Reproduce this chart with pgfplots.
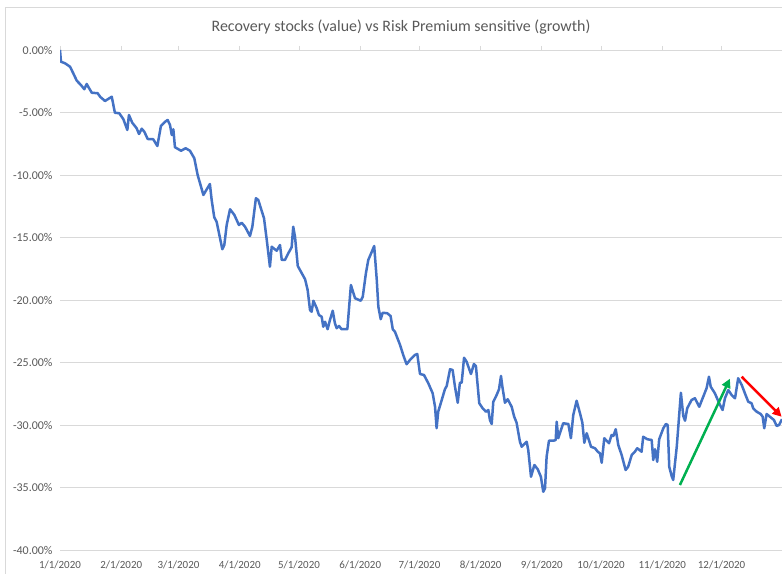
\documentclass[border=0pt]{standalone}
\usepackage{fontspec}
\setmainfont{Carlito}
\usepackage{pgfplots}
\pgfplotsset{compat=1.18}
\usetikzlibrary{arrows.meta}
\definecolor{xlblue}{RGB}{68,114,196}
\definecolor{xlgreen}{RGB}{0,176,80}
\definecolor{xlred}{RGB}{255,0,0}
\definecolor{xlgrid}{RGB}{217,217,217}
\definecolor{xltext}{RGB}{89,89,89}
\begin{document}
\begin{tikzpicture}[x=1bp,y=1bp]
\draw[xlgrid, line width=0.75bp] (5,-20) rectangle (900,567);
\begin{axis}[
 at={(60bp,24bp)}, anchor=south west,
 scale only axis, width=722bp, height=500bp,
 xmin=0, xmax=365.6, ymin=-40, ymax=0,
 axis line style={draw=none},
 xtick={0,31,60,91,121,152,182,213,244,274,305,335},
 xticklabels={1/1/2020,2/1/2020,3/1/2020,4/1/2020,5/1/2020,6/1/2020,7/1/2020,8/1/2020,9/1/2020,10/1/2020,11/1/2020,12/1/2020},
 xtick pos=upper, xticklabel pos=lower,
 xtick align=outside,
 major tick length=4bp,
 ytick={-40,-35,-30,-25,-20,-15,-10,-5,0},
 ytick style={draw=none},
 yticklabel={\pgfmathprintnumber[fixed,fixed zerofill,precision=2]{\tick}\%},
 ymajorgrids, grid style={xlgrid, line width=0.75bp},
 xtick style={xlgrid, line width=0.75bp},
 tick label style={text=xltext},
 xticklabel style={font=\fontsize{11}{13}\selectfont, yshift=-3bp},
 yticklabel style={font=\fontsize{12}{14}\selectfont, xshift=-4bp},
 /pgf/number format/assume math mode=true,
]
\addplot[xlblue, line width=2.5bp, line join=round] table {
x y
0 0
0.5 -0.94
2.5 -1.06
5.1 -1.34
6.7 -1.86
8.5 -2.46
10.6 -2.80
12.3 -3.14
13.5 -2.72
14.3 -2.94
16.1 -3.42
19.1 -3.46
20.3 -3.74
22.8 -4.08
26.2 -3.74
27.8 -5.02
30.0 -5.06
32.1 -5.54
34.1 -6.40
34.9 -5.20
36.6 -5.82
38.8 -6.26
40.0 -6.72
41.4 -6.30
42.7 -6.54
44.4 -7.12
47.2 -7.14
49.3 -7.68
51.1 -6.08
53.2 -5.74
54.5 -5.60
55.7 -6.00
56.6 -6.80
57.4 -6.34
58.2 -7.78
61.3 -8.06
63.6 -7.86
65.8 -8.06
68.0 -8.66
69.7 -10.0
70.9 -10.66
72.6 -11.6
75.9 -10.72
76.8 -12.0
78.1 -13.38
79.3 -13.74
82.2 -15.94
83.2 -15.6
84.4 -14.0
86.1 -12.74
88.3 -13.2
90.6 -14.0
92.0 -13.82
93.7 -14.14
96.2 -14.88
97.4 -14.14
99.2 -11.86
100.4 -12.0
103.3 -13.46
104.7 -15.2
106.3 -17.34
107.2 -15.74
109.7 -16.06
111.4 -15.6
112.3 -16.8
113.9 -16.8
115.6 -16.26
117.3 -15.78
118.1 -14.14
119.0 -14.94
120.4 -17.28
122.0 -17.74
124.1 -18.34
125.4 -19.2
126.6 -20.8
127.4 -20.94
128.3 -20.06
130.0 -20.66
131.1 -21.2
132.5 -21.34
133.3 -22.14
134.2 -21.74
135.5 -22.34
136.7 -21.6
138.1 -20.86
139.2 -21.86
140.1 -22.26
141.3 -22.08
142.6 -22.34
144.3 -22.34
145.5 -22.34
147.3 -18.8
149.4 -19.86
152.3 -20.06
153.3 -19.74
154.9 -17.86
156.1 -16.8
158.1 -16.06
159.1 -15.68
160.4 -18.4
161.2 -20.54
162.4 -21.54
163.4 -21.02
165.7 -21.06
167.4 -21.28
168.5 -22.34
169.6 -22.54
172.2 -23.6
173.8 -24.4
175.5 -25.14
177.2 -24.8
179.7 -24.4
180.9 -24.32
182.3 -25.92
184.3 -26.0
186.5 -26.66
188.7 -27.46
189.9 -28.54
190.7 -30.26
191.5 -28.94
193.3 -28.0
194.9 -27.14
195.8 -26.88
197.5 -25.54
198.8 -25.6
200.0 -26.94
201.4 -28.22
202.5 -26.62
203.4 -26.62
204.6 -24.62
205.9 -24.94
208.1 -25.92
209.6 -25.12
210.6 -25.28
212.3 -28.26
214.0 -28.66
215.7 -28.94
216.9 -28.8
217.7 -29.6
218.6 -29.92
219.4 -28.14
221.1 -27.6
222.3 -27.14
223.3 -26.08
224.0 -26.94
225.3 -28.22
226.7 -27.94
228.7 -28.54
230.0 -29.34
231.2 -29.82
232.9 -31.34
233.8 -31.74
236.3 -31.34
237.1 -32.0
238.5 -34.14
240.2 -33.2
241.9 -33.54
243.5 -34.14
244.7 -35.34
245.6 -35.06
246.4 -32.54
247.6 -31.26
249.8 -31.26
251.0 -31.2
251.5 -29.74
252.3 -31.06
254.8 -29.86
257.4 -29.92
258.7 -31.06
259.9 -29.2
261.6 -28.06
263.3 -29.06
264.5 -29.82
265.5 -31.42
266.7 -30.66
268.9 -31.74
270.9 -31.86
272.3 -32.14
273.4 -32.26
274.3 -33.02
275.6 -31.06
278.0 -31.46
279.3 -30.8
280.2 -30.88
281.4 -30.34
282.7 -31.6
284.4 -32.4
286.4 -33.6
287.7 -33.34
289.5 -32.4
291.1 -32.14
292.3 -31.86
294.5 -32.14
295.3 -30.94
297.4 -31.14
299.6 -31.2
300.4 -32.8
301.3 -31.94
302.4 -32.94
303.4 -31.14
305.5 -30.26
306.8 -29.92
307.7 -30.0
308.5 -33.34
309.7 -34.08
310.5 -34.4
312.3 -31.74
314.4 -27.42
315.6 -29.28
316.5 -29.66
317.6 -28.66
319.8 -28.0
321.5 -27.86
323.7 -28.54
325.4 -27.86
327.4 -27.06
328.6 -26.14
329.5 -26.94
331.6 -27.46
333.8 -28.26
335.5 -28.8
336.7 -27.86
338.4 -27.2
340.1 -27.6
341.8 -27.86
343.4 -26.26
345.2 -26.8
346.8 -27.46
348.5 -28.14
350.2 -28.26
351.0 -28.66
352.8 -28.94
354.8 -29.12
355.8 -29.34
356.6 -30.26
357.8 -29.12
359.5 -29.34
361.5 -29.6
362.9 -30.08
364.1 -30.0
365.6 -29.54
};
\draw[xlgreen, line width=2.5bp, -{Triangle[length=9bp,width=9bp]}] (axis cs:313.9,-34.8) -- (axis cs:339.2,-26.3);
\draw[xlred, line width=2.5bp, -{Triangle[length=9bp,width=9bp]}] (axis cs:345.2,-26.14) -- (axis cs:365.4,-29.34);
\end{axis}
\node[font=\fontsize{16}{19}\selectfont, text=xltext] at (401,547) {Recovery stocks (value) vs Risk Premium sensitive (growth)};
\pgfresetboundingbox
\useasboundingbox (0,0) rectangle (782,574);
\end{tikzpicture}
\end{document}
